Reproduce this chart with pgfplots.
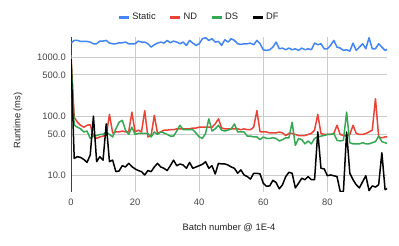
\documentclass[border=0pt]{standalone}
\usepackage{pgfplots}
\pgfplotsset{compat=1.18}
\usepackage{fontspec}
\setmainfont{Liberation Sans}
\definecolor{cStatic}{HTML}{4285F4}
\definecolor{cND}{HTML}{EA4335}
\definecolor{cDS}{HTML}{34A853}
\definecolor{cDF}{HTML}{000000}
\definecolor{tickgray}{HTML}{444444}
\definecolor{titlegray}{HTML}{222222}
\definecolor{gridgray}{HTML}{CCCCCC}
\newcommand{\chartfont}{\fontsize{9.4}{11}\selectfont}
\begin{document}
\begin{tikzpicture}
\useasboundingbox (0,0) rectangle (399bp,246bp);
\begin{axis}[
  at={(71bp,54bp)}, anchor=south west,
  scale only axis, width=316bp, height=155bp,
  ymode=log, ymin=5.2, ymax=2190,
  xmin=0, xmax=98.6,
  xtick={0,20,40,60,80}, xticklabels={0,20,40,60,80},
  ytick={10,50,100,500,1000}, yticklabels={10.0,50.0,100.0,500.0,1000.0},
  minor ytick={}, log basis y=10,
  major tick length=0pt, minor tick length=0pt,
  grid=major, major grid style={draw=gridgray, line width=0.8bp},
  axis x line*=bottom, axis y line*=left,
  x axis line style={draw=none},
  y axis line style={draw=black!75, line width=1bp},
  tick label style={font=\chartfont, text=tickgray},
  xticklabel style={anchor=north, inner sep=0pt, yshift=-6.5bp},
  yticklabel style={anchor=east, inner sep=0pt, xshift=-5bp},
  xlabel={Batch number @ 1E-4},
  ylabel={Runtime (ms)},
  every axis x label/.style={at={(axis description cs:0.5,0)}, anchor=center, yshift=-36bp, font=\chartfont, text=titlegray},
  every axis y label/.style={at={(axis description cs:-0.1677,0.461)}, anchor=center, rotate=90, font=\chartfont, text=titlegray},
  legend columns=4,
  legend style={at={(axis description cs:0.405,1.129)}, anchor=center, draw=none, fill=none, font=\chartfont, text=titlegray,
    /tikz/every even column/.append style={column sep=11bp}, cells={anchor=west}},
  legend image code/.code={\draw[#1, line width=3bp] (0bp,0bp) -- (10bp,0bp);},
  every axis plot/.append style={line width=1.5bp, line join=round},
]
\addplot[color=cStatic] coordinates {
(0,1727)(1,1916)(2,1916)(3,1843)(4,1843)(5,1843)(6,1796)(7,1683)(8,1683)(9,1866)
(10,1866)(11,1916)(12,1727)(13,1683)(14,1683)(15,1750)(16,1750)(17,1796)(18,1683)(19,1683)
(20,1683)(21,1866)(22,1796)(23,1796)(24,1683)(25,1477)(26,1619)(27,1727)(28,1796)(29,1727)
(30,1916)(31,1750)(32,1866)(33,1796)(34,1683)(35,1796)(36,1577)(37,1916)(38,1727)(39,1577)
(40,1683)(41,2046)(42,2130)(43,1916)(44,2046)(45,1796)(46,1843)(47,1577)(48,1968)(49,1796)
(50,2046)(51,1916)(52,1683)(53,1640)(54,1683)(55,1683)(56,1727)(57,1619)(58,1916)(59,1683)
(60,1331)(61,1297)(62,1331)(63,1477)(64,1796)(65,1384)(66,1421)(67,1331)(68,1421)(69,1331)
(70,1384)(71,1297)(72,1421)(73,1331)(74,1384)(75,1331)(76,1727)(77,1619)(78,1683)(79,1384)
(80,1384)(81,1577)(82,1916)(83,1477)(84,1421)(85,1297)(86,1331)(87,1264)(88,1727)(89,1297)
(90,1477)(91,1683)(92,1384)(93,2130)(94,1384)(95,1384)(96,1683)(97,1477)(98,1297)(99,1384)
};
\addlegendentry{Static}
\addplot[color=cND] coordinates {
(0,1080)(1,96)(2,79)(3,70)(4,65)(5,70)(6,72)(7,46)(8,42)(9,44.5)
(10,46)(11,47)(12,107)(13,52)(14,54)(15,54)(16,56)(17,54)(18,54)(19,117)
(20,54)(21,58)(22,54)(23,124)(24,44.5)(25,47)(26,103)(27,51)(28,54)(29,58)
(30,58)(31,59)(32,59)(33,61)(34,61)(35,61)(36,61)(37,61)(38,63)(39,63)
(40,65)(41,65)(42,65)(43,65)(44,65)(45,74)(46,90)(47,63)(48,61)(49,61)
(50,61)(51,61)(52,61)(53,59)(54,61)(55,59)(56,59)(57,65)(58,124)(59,54)
(60,54)(61,54)(62,52)(63,52)(64,52)(65,54)(66,52)(67,47)(68,51)(69,51)
(70,49)(71,47)(72,47)(73,47)(74,49)(75,51)(76,58)(77,107)(78,51)(79,49)
(80,49)(81,49)(82,51)(83,70)(84,49)(85,47)(86,46)(87,49)(88,70)(89,51)
(90,49)(91,49)(92,51)(93,54)(94,58)(95,197)(96,44.5)(97,43)(98,44.5)(99,44.5)
};
\addlegendentry{ND}
\addplot[color=cDS] coordinates {
(0,950)(1,70)(2,65)(3,61)(4,54)(5,56)(6,42)(7,46)(8,47)(9,49)
(10,49)(11,54)(12,49)(13,44.5)(14,61)(15,79)(16,85)(17,58)(18,49)(19,65)
(20,49)(21,51)(22,51)(23,51)(24,51)(25,44.5)(26,54)(27,49)(28,54)(29,52)
(30,49)(31,46)(32,46)(33,56)(34,70)(35,59)(36,59)(37,59)(38,59)(39,52)
(40,44.5)(41,42)(42,51)(43,90)(44,56)(45,61)(46,70)(47,58)(48,56)(49,58)
(50,61)(51,74)(52,54)(53,54)(54,54)(55,46)(56,46)(57,44.5)(58,44.5)(59,40)
(60,44.5)(61,42)(62,42)(63,43)(64,42)(65,38)(66,40)(67,43)(68,43)(69,79)
(70,32)(71,42)(72,40)(73,34)(74,38)(75,34)(76,42)(77,44.5)(78,46)(79,47)
(80,49)(81,49)(82,51)(83,39)(84,38)(85,39)(86,117)(87,35.5)(88,34)(89,34)
(90,34)(91,35.5)(92,34)(93,34)(94,35.5)(95,37)(96,46)(97,37)(98,35.5)(99,34)
};
\addlegendentry{DS}
\addplot[color=cDF] coordinates {
(0,920)(1,19.3)(2,20.6)(3,20)(4,18.5)(5,16.5)(6,22)(7,100)(8,17)(9,20.6)
(10,18)(11,74)(12,17)(13,18)(14,11.5)(15,11.8)(16,14.5)(17,13.8)(18,15.9)(19,14)
(20,12.8)(21,12)(22,11.5)(23,10.1)(24,12)(25,11.5)(26,13.8)(27,15.9)(28,13.8)(29,13.1)
(30,12)(31,14.5)(32,18)(33,14.5)(34,15.5)(35,14.9)(36,13.1)(37,16.5)(38,13.1)(39,13.8)
(40,14.5)(41,15.3)(42,16.9)(43,13.1)(44,14.5)(45,10.5)(46,15.9)(47,15.5)(48,15.5)(49,14.9)
(50,13.8)(51,13.1)(52,10.8)(53,12.3)(54,10.1)(55,9.5)(56,8.6)(57,10.8)(58,10.8)(59,10.5)
(60,7.3)(61,6.5)(62,6.6)(63,8.2)(64,7.5)(65,5.9)(66,6.9)(67,9.5)(68,11.2)(69,10.8)
(70,6.1)(71,7.3)(72,8.9)(73,8.4)(74,9.5)(75,8.4)(76,8.4)(77,54)(78,13.1)(79,12.8)
(80,9.8)(81,10.1)(82,9.8)(83,9.5)(84,5.3)(85,5.3)(86,54)(87,10.8)(88,8.4)(89,6.9)
(90,6.1)(91,7.8)(92,9.8)(93,5.5)(94,6.6)(95,6.3)(96,6.9)(97,24)(98,5.7)(99,6.1)
};
\addlegendentry{DF}
\end{axis}
\end{tikzpicture}
\end{document}
